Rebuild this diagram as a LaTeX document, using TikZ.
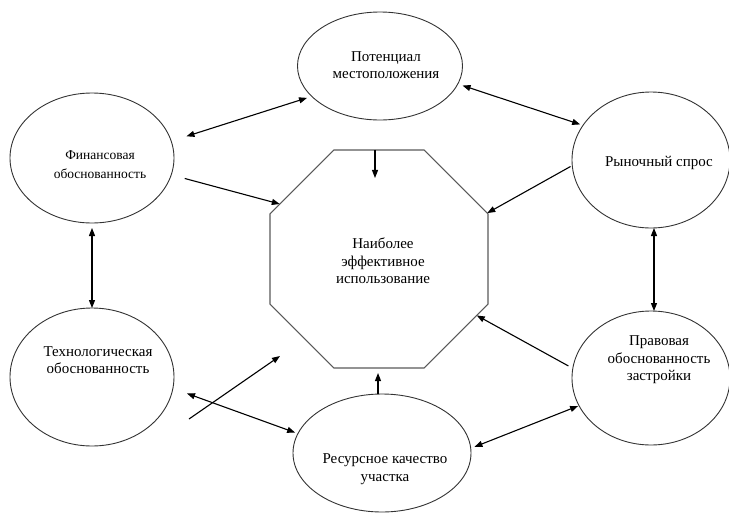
\documentclass[tikz,border=0pt]{standalone}
\usepackage{fontspec}
\setmainfont{Liberation Serif}
\usetikzlibrary{shapes.geometric,arrows.meta}
\begin{document}
\begin{tikzpicture}[x=1pt,y=-1pt,
  ell/.style={draw=black!80,line width=0.9pt,ellipse,inner sep=0pt,outer sep=0pt},
  octo/.style={draw=black!65,line width=1.1pt,regular polygon,regular polygon sides=8,inner sep=0pt,outer sep=0pt},
  lbl/.style={align=center,font=\fontsize{15}{17.5}\selectfont,inner sep=0pt},
  slbl/.style={align=center,font=\fontsize{13.5}{19}\selectfont,inner sep=0pt},
  tip/.tip={Triangle[length=8pt,width=6pt]},
  arr/.style={line width=1.1pt,-tip},
  biarr/.style={line width=1.1pt,tip-tip},
]
\useasboundingbox (0,0) rectangle (729,512);
% shapes
\node[ell,minimum width=165pt,minimum height=108pt] (pot) at (380,66) {};
\node[ell,minimum width=164pt,minimum height=130pt] (fin) at (92,158) {};
\node[ell,minimum width=158pt,minimum height=136pt] (mkt) at (651,160) {};
\node[ell,minimum width=164pt,minimum height=138pt] (tech) at (92,377) {};
\node[ell,minimum width=178pt,minimum height=118pt] (res) at (382,453) {};
\node[ell,minimum width=158pt,minimum height=134pt] (legal) at (651,378) {};
\node[octo,minimum size=236pt] (oct) at (379,259) {};
% texts
\node[lbl] (potT) at (386,65) {Потенциал\\местоположения};
\node[slbl] (finT) at (100,165) {Финансовая\\обоснованность};
\node[lbl] (mktT) at (659,163) {Рыночный спрос};
\node[lbl] (techT) at (98,360) {Технологическая\\обоснованность};
\node[lbl] (legalT) at (659,360) {Правовая\\обоснованность\\застройки};
\node[lbl] (resT) at (385,469) {Ресурсное качество\\участка};
\node[lbl] (octT) at (383,261) {Наиболее\\эффективное\\использование};
% free ends
\coordinate (ts) at (189,419);
\coordinate (te) at (280,356);
% connectors
\draw[biarr,shorten <=16pt,shorten >=5pt] (fin.12.5) -- (pot.204.6);
\draw[biarr,shorten <=5pt,shorten >=3pt] (pot.-13) -- (mkt.153.1);
\draw[arr,shorten <=14pt] (fin.-12.1) -- (oct.151.4);
\draw[arr] ([xshift=-4pt]oct.north) -- ++(0,28);
\draw[arr,shorten <=2pt] (mkt.184.9) -- (oct.23.8);
\draw[biarr,shorten <=5pt] (fin.south) -- (tech.north);
\draw[biarr] ([xshift=3pt]mkt.south) -- ([xshift=3pt]legal.north);
\draw[arr,shorten <=5pt] (legal.173.8) -- (oct.-30.7);
\draw[arr,shorten >=5pt] ([xshift=-4pt]res.north) -- ([xshift=-1pt]oct.south);
\draw[biarr,shorten <=1pt,shorten >=4pt] (legal.201) -- (res.3.1);
\draw[biarr,shorten <=15pt,shorten >=3pt] (tech.-8.3) -- (res.167.1);
\draw[arr] (ts) -- (te);
\end{tikzpicture}
\end{document}
